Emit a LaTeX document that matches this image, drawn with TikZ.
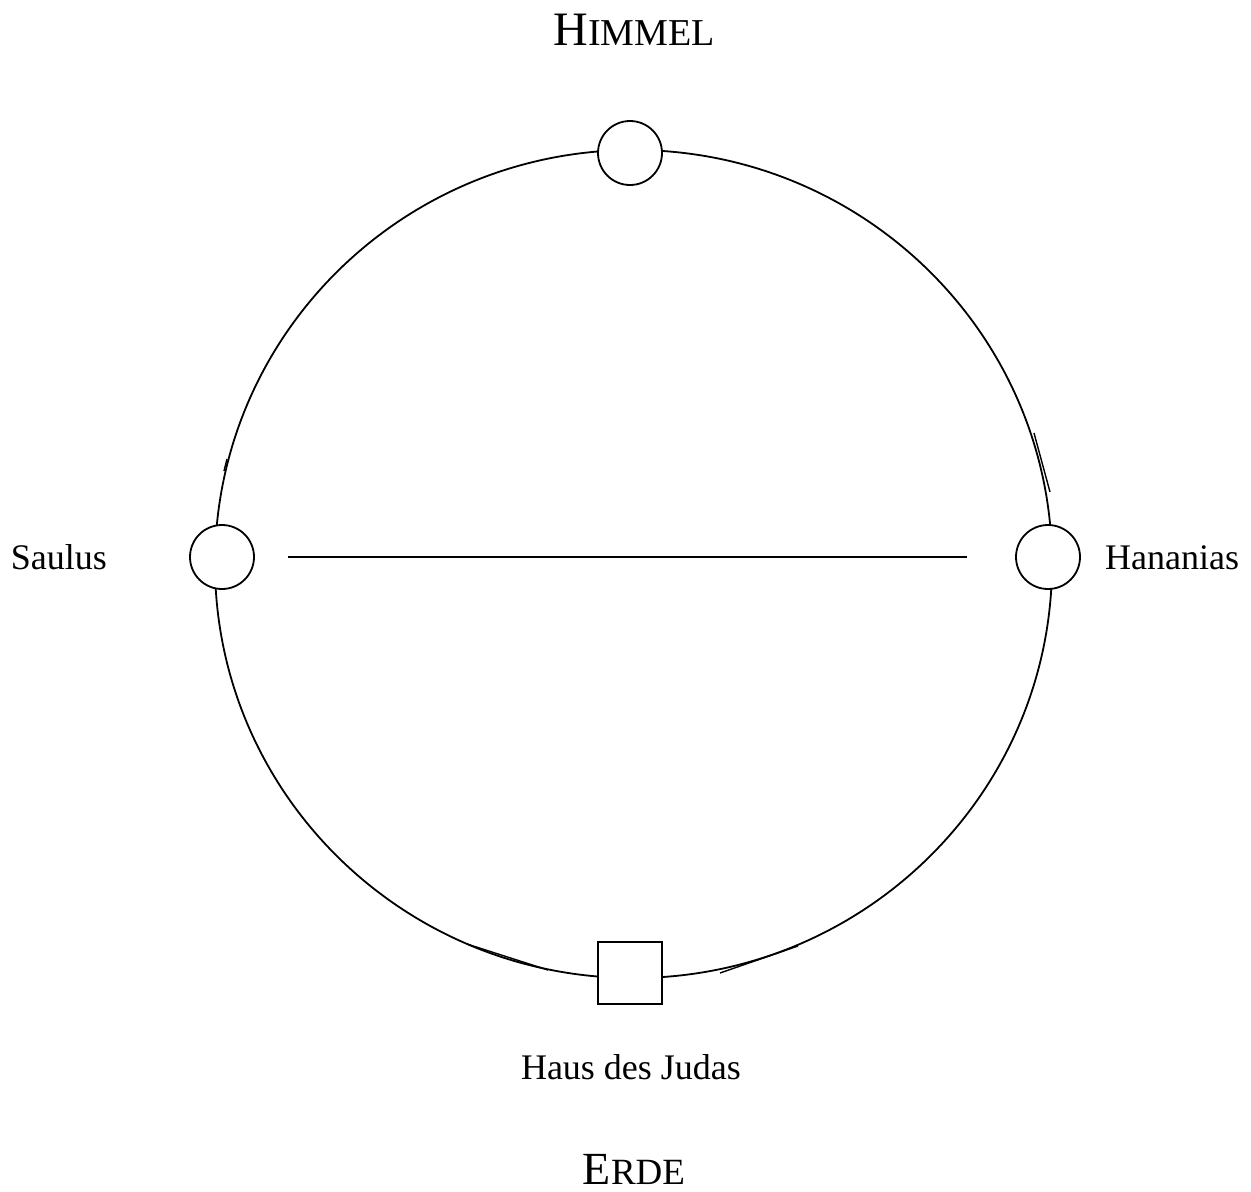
\documentclass[tikz,border=0pt]{standalone}
\usepackage{fontspec}
\setmainfont{Liberation Serif}
\usetikzlibrary{backgrounds}
\begin{document}
\begin{tikzpicture}[x=1pt,y=-1pt,
  person/.style={circle,draw,fill=white,minimum size=64pt,inner sep=0pt,line width=1.8pt},
  place/.style={rectangle,draw,fill=white,minimum width=64pt,minimum height=62pt,inner sep=0pt,line width=1.8pt},
  lbl/.style={font=\fontsize{36}{40}\selectfont,inner sep=0pt},
  arcline/.style={line width=1.8pt},
  ring/.style={x radius=418.5,y radius=414},
  tickline/.style={line width=1.4pt}]
\useasboundingbox (0,0) rectangle (1251,1192);
\coordinate (pT) at (633.5,150);
\coordinate (pL) at (215,564);
\coordinate (pB) at (633.5,978);
\coordinate (pR) at (1052,564);
\node[person] (top) at (630,153) {};
\node[person] (saul) at (222,557) {};
\node[person] (han) at (1048,557) {};
\node[place] (haus) at (630,973) {};
\node[lbl,anchor=base east] (lsaul) at (107,569) {Saulus};
\node[lbl,anchor=base west] (lhan) at (1105,569) {Hananias};
\node[lbl,anchor=base] (lhaus) at (631,1079) {Haus des Judas};
\node[inner sep=0pt,anchor=base] (himmel) at (634,45) {{\fontsize{48}{50}\selectfont H}{\fontsize{38}{40}\selectfont IMMEL}};
\node[inner sep=0pt,anchor=base] (erde) at (634,1184) {{\fontsize{46}{50}\selectfont E}{\fontsize{37}{40}\selectfont RDE}};
\begin{scope}[on background layer]
\draw[arcline] (pT) arc[start angle=270,end angle=180,ring];
\draw[arcline] (pL) arc[start angle=180,end angle=90,ring];
\draw[arcline] (pB) arc[start angle=90,end angle=0,ring];
\draw[arcline] (pR) arc[start angle=0,end angle=-90,ring];
\end{scope}
\draw[arcline,shorten <=33pt,shorten >=48pt] (saul) -- (han);
\coordinate (m1a) at (224,471); \coordinate (m1b) at (227,459);
\coordinate (m2a) at (1034,433); \coordinate (m2b) at (1050,492);
\coordinate (m3a) at (467,944); \coordinate (m3b) at (548,970);
\coordinate (m4a) at (720,973); \coordinate (m4b) at (798,946);
\draw[tickline] (m1a) -- (m1b);
\draw[tickline] (m2a) -- (m2b);
\draw[tickline] (m3a) -- (m3b);
\draw[tickline] (m4a) -- (m4b);
\end{tikzpicture}
\end{document}
